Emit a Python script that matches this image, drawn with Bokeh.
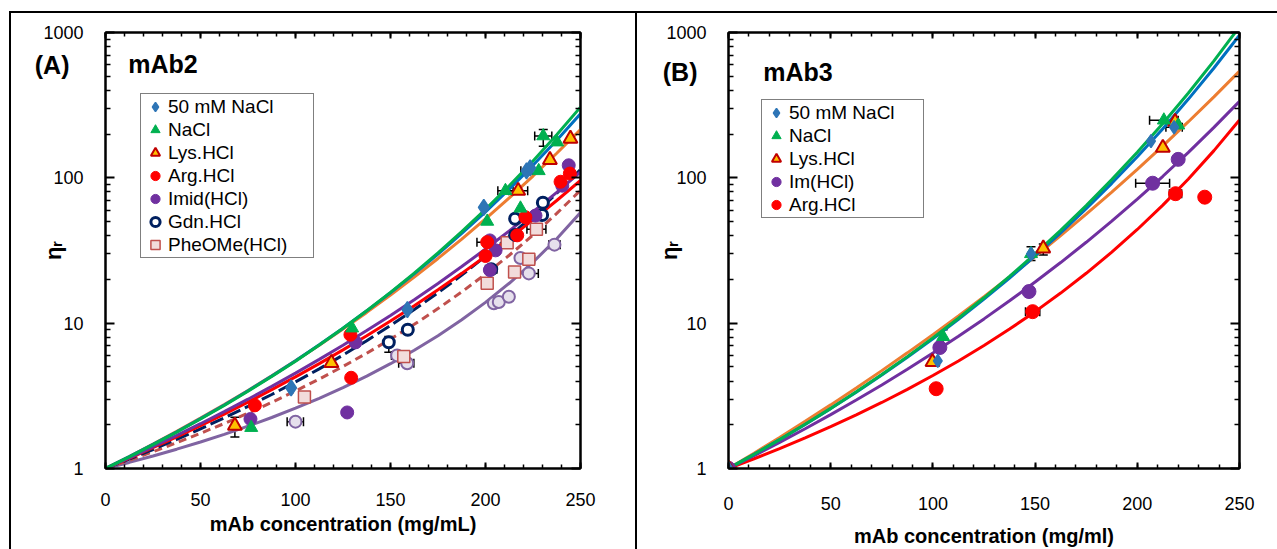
import numpy as np
from bokeh.plotting import figure
from bokeh.models import (FixedTicker, LinearAxis, LogAxis, CustomJSTickFormatter, BasicTickFormatter,
                          Legend, LegendItem, Label, Whisker, TeeHead, ColumnDataSource, Div)
from bokeh.layouts import row, column
from bokeh.embed import file_html
from bokeh.resources import INLINE

FONT = "Liberation Sans"

# ---------------- data: panel A (mAb2) ----------------
A_nacl50_c = [97.7, 158.9, 199.1, 221.6, 223.5]
A_nacl50_v = [3.59, 12.4, 62.7, 111.7, 117.0]
A_nacl_c = [76.7, 129.8, 200.9, 210.5, 218.4, 228.0, 230.4, 237.7]
A_nacl_v = [1.91, 9.24, 50.1, 81.5, 61.7, 111.7, 194.0, 176.0]
A_lys_c = [68.1, 118.9, 217.2, 233.9, 244.7]
A_lys_v = [1.97, 5.33, 81.5, 133.0, 186.0]
A_arg_c = [78.6, 128.9, 129.3, 200.0, 200.9, 216.7, 221.0, 239.5, 244.4]
A_arg_v = [2.72, 8.33, 4.21, 29.0, 36.1, 40.2, 53.6, 94.0, 107.0]
A_imid_c = [76.3, 127.2, 131.6, 202.3, 205.3, 202.3, 226.3, 240.4, 243.8]
A_imid_v = [2.19, 2.43, 7.38, 37.1, 31.7, 23.2, 55.0, 88.3, 122.0]
A_gdn_c = [149.1, 159.1, 203.0, 215.6, 215.6, 229.8, 230.2]
A_gdn_v = [7.39, 9.0, 23.5, 40.5, 52.3, 55.5, 67.5]
A_phe_c = [104.7, 157.0, 200.9, 211.4, 215.3, 222.8, 226.8]
A_phe_v = [3.1, 5.9, 18.8, 35.8, 22.5, 27.5, 44.2]
A_lav_c = [100.0, 153.5, 158.8, 204.4, 207.0, 212.3, 218.4, 222.8, 236.3]
A_lav_v = [2.1, 6.0, 5.3, 13.7, 14.0, 15.2, 28.1, 22.0, 34.7]

FIT_C = [0, 12.5, 25, 37.5, 50, 62.5, 75, 87.5, 100, 112.5, 125, 137.5, 150, 162.5,
         175, 187.5, 200, 212.5, 225, 237.5, 250]
A_fit_nacl50 = [1, 1.206, 1.464, 1.790, 2.204, 2.737, 3.426, 4.327, 5.516, 7.101, 9.241,
                12.16, 16.19, 21.84, 29.85, 41.41, 58.34, 83.59, 121.9, 181.3, 275.5]
A_fit_nacl = [1, 1.203, 1.458, 1.779, 2.189, 2.715, 3.398, 4.294, 5.479, 7.068, 9.221,
              12.18, 16.30, 22.11, 30.45, 42.63, 60.72, 88.14, 130.5, 197.7, 306.6]
A_fit_lys = [1, 1.210, 1.472, 1.803, 2.222, 2.757, 3.445, 4.338, 5.506, 7.047, 9.099,
             11.86, 15.60, 20.74, 27.88, 37.91, 52.18, 72.76, 102.9, 147.6, 215.0]
A_fit_arg = [1, 1.176, 1.390, 1.651, 1.973, 2.370, 2.865, 3.486, 4.270, 5.267, 6.546,
             8.198, 10.35, 13.19, 16.96, 22.02, 28.88, 38.31, 51.40, 69.83, 96.11]
A_fit_imid = [1, 1.185, 1.411, 1.689, 2.033, 2.461, 2.998, 3.675, 4.534, 5.634, 7.052,
              8.895, 11.31, 14.51, 18.77, 24.53, 32.37, 43.18, 58.24, 79.49, 109.9]
A_fit_gdn = [1, 1.159, 1.351, 1.586, 1.874, 2.229, 2.673, 3.231, 3.940, 4.850, 6.030,
             7.578, 9.635, 12.40, 16.19, 21.43, 28.83, 39.46, 55.03, 78.31, 114.0]
A_fit_phe = [1, 1.139, 1.305, 1.505, 1.746, 2.041, 2.402, 2.851, 3.414, 4.125, 5.036,
             6.214, 7.760, 9.818, 12.60, 16.41, 21.74, 29.33, 40.39, 56.89, 82.15]
A_fit_lav = [1, 1.101, 1.219, 1.358, 1.522, 1.719, 1.955, 2.244, 2.600, 3.043, 3.604,
             4.323, 5.262, 6.509, 8.201, 10.55, 13.90, 18.81, 26.28, 38.09, 57.64]

A_xerr_c = [99.9, 158.3, 210.5, 217.2, 200.0, 203.0, 226.8, 222.8, 236.3, 222.8, 221.6, 230.4, 153.5]
A_xerr_v = [2.1, 5.3, 81.5, 81.5, 36.1, 23.5, 44.2, 22.0, 34.7, 27.5, 111.7, 194.0, 6.0]
A_xerr_d = [4.3, 4.0, 4.0, 5.0, 4.5, 3.0, 5.0, 5.0, 3.0, 3.0, 3.0, 4.5, 3.0]
A_yerr_c = [68.1, 149.1, 230.4]
A_yerr_lo = [1.65, 6.3, 165.0]
A_yerr_hi = [2.25, 8.1, 215.0]

# ---------------- data: panel B (mAb3) ----------------
B_nacl50_c = [0, 102.4, 148.0, 206.7, 218.0]
B_nacl50_v = [1, 5.5, 30.0, 179.0, 223.0]
B_nacl_c = [0, 105.0, 148.0, 213.0, 220.0]
B_nacl_v = [1, 8.06, 30.0, 249.0, 230.0]
B_lys_c = [0, 99.8, 154.0, 212.5, 218.5]
B_lys_v = [1, 5.4, 32.7, 161.0, 243.0]
B_im_c = [0, 103.4, 147.0, 207.5, 220.0]
B_im_v = [1, 6.8, 16.5, 91.8, 134.0]
B_arg_c = [0, 101.6, 148.8, 218.7, 233.0]
B_arg_v = [1, 3.54, 12.0, 77.8, 73.6]

B_fit_nacl50 = [1, 1.251, 1.579, 2.010, 2.583, 3.352, 4.396, 5.828, 7.820, 10.63, 14.63,
                20.44, 28.99, 41.79, 61.33, 91.67, 139.8, 218.0, 348.1, 569.8, 959.7]
B_fit_nacl = [1, 1.252, 1.581, 2.014, 2.592, 3.369, 4.428, 5.887, 7.925, 10.81, 14.95,
              21.00, 29.97, 43.53, 64.40, 97.21, 149.9, 236.8, 383.5, 638.3, 1094.8]
B_fit_lys = [1, 1.275, 1.635, 2.110, 2.740, 3.581, 4.714, 6.248, 8.343, 11.23, 15.23,
             20.84, 28.75, 40.03, 56.26, 79.86, 114.5, 166.0, 243.3, 360.9, 542.0]
B_fit_im = [1, 1.225, 1.511, 1.877, 2.347, 2.959, 3.759, 4.816, 6.225, 8.122, 10.70,
            14.25, 19.18, 26.12, 36.02, 50.32, 71.30, 102.5, 149.7, 222.4, 336.3]
B_fit_arg = [1, 1.167, 1.371, 1.624, 1.940, 2.339, 2.847, 3.504, 4.361, 5.497, 7.023,
             9.107, 12.00, 16.11, 22.04, 30.81, 44.12, 64.88, 98.29, 153.9, 250.2]

B_xerr_c = [207.5, 213.0, 218.0, 218.7, 148.8]
B_xerr_v = [91.8, 249.0, 223.0, 77.8, 12.0]
B_xerr_d = [8.3, 7.0, 4.0, 3.0, 3.5]
B_yerr_c = [148.0, 154.0, 105.0]
B_yerr_lo = [27.0, 29.5, 7.2]
B_yerr_hi = [33.5, 35.0, 9.0]

X_MAJOR = [0, 50, 100, 150, 200, 250]
X_MINOR = list(range(0, 251, 10))
Y_MAJOR = [1, 10, 100, 1000]
Y_MINOR = [m * d for d in (1, 10, 100) for m in range(2, 10)]

C_BLUE, C_BLUE_M = "#0070C0", "#2E75B6"
C_GREEN = "#00B050"
C_ORANGE = "#ED7D31"
C_RED = "#FF0000"
C_PURPLE = "#7030A0"
C_NAVY = "#002060"
C_ROSE = "#C0504D"
C_LAV = "#8064A2"


def style_axis(ax, major_in, minor_in, labels=True):
    ax.axis_line_color = "black"
    ax.axis_line_width = 2
    ax.major_tick_line_color = "black"
    ax.major_tick_line_width = 2
    ax.minor_tick_line_color = "black"
    ax.minor_tick_line_width = 1.5
    ax.major_tick_in = major_in
    ax.major_tick_out = 0
    ax.minor_tick_in = minor_in
    ax.minor_tick_out = 0
    ax.major_label_text_font = FONT
    ax.major_label_text_font_size = "18px"
    ax.major_label_text_color = "black"
    if not labels:
        ax.formatter = CustomJSTickFormatter(code="return ''")
        ax.major_label_standoff = 0


def make_panel(width, mb_left, mb_right, mb_top, mb_bottom, xlabel, x_standoff, xl_standoff, yl_standoff):
    p = figure(width=width, height=536, x_range=(0, 250), y_range=(1, 1000),
               y_axis_type="log", output_backend="svg", toolbar_location=None,
               min_border_left=mb_left, min_border_right=mb_right,
               min_border_top=mb_top, min_border_bottom=mb_bottom)
    p.xgrid.visible = False
    p.ygrid.visible = False
    p.outline_line_color = "black"
    p.outline_line_width = 2
    p.background_fill_color = "white"
    p.border_fill_color = "white"
    xt = FixedTicker(ticks=X_MAJOR, minor_ticks=X_MINOR)
    yt = FixedTicker(ticks=Y_MAJOR, minor_ticks=Y_MINOR)
    p.xaxis.ticker = xt
    p.yaxis.ticker = yt
    p.yaxis.formatter = BasicTickFormatter()
    p.yaxis.major_label_overrides = {1: "1", 10: "10", 100: "100", 1000: "1000"}
    style_axis(p.xaxis[0], 6, 4)
    style_axis(p.yaxis[0], 9, 5)
    p.xaxis.major_label_standoff = x_standoff
    p.yaxis.major_label_standoff = 22
    p.xaxis.axis_label = xlabel
    p.xaxis.axis_label_text_font = FONT
    p.xaxis.axis_label_text_font_style = "bold"
    p.xaxis.axis_label_text_font_size = "20px"
    p.xaxis.axis_label_text_color = "black"
    p.xaxis.axis_label_standoff = xl_standoff
    p.yaxis.axis_label = "\u03b7\u1d63"
    p.yaxis.axis_label_text_font = FONT
    p.yaxis.axis_label_text_font_style = "bold"
    p.yaxis.axis_label_text_font_size = "22px"
    p.yaxis.axis_label_text_color = "black"
    p.yaxis.axis_label_standoff = yl_standoff
    top = LinearAxis(ticker=xt)
    style_axis(top, 6, 4, labels=False)
    p.add_layout(top, "above")
    right = LogAxis(ticker=yt)
    style_axis(right, 9, 5, labels=False)
    p.add_layout(right, "right")
    return p


def add_tag(p, text, y_pos, standoff):
    # panel tag such as "(A)" drawn as the single label of an extra, line-less left axis
    ax = LogAxis(ticker=FixedTicker(ticks=[y_pos], minor_ticks=[]),
                 formatter=CustomJSTickFormatter(code="return '%s'" % text))
    ax.axis_line_color = None
    ax.major_tick_line_color = None
    ax.minor_tick_line_color = None
    ax.major_tick_in = 0
    ax.major_tick_out = 0
    ax.minor_tick_in = 0
    ax.minor_tick_out = 0
    ax.major_label_standoff = standoff
    ax.major_label_text_font = FONT
    ax.major_label_text_font_style = "bold"
    ax.major_label_text_font_size = "25px"
    ax.major_label_text_color = "black"
    p.add_layout(ax, "left")


def add_whiskers(p, xc, xv, xd, yc, ylo, yhi):
    xs = ColumnDataSource(dict(base=xv, lower=[c - d for c, d in zip(xc, xd)],
                               upper=[c + d for c, d in zip(xc, xd)]))
    p.add_layout(Whisker(source=xs, base="base", lower="lower", upper="upper", dimension="width",
                         line_color="black", line_width=1.5,
                         upper_head=TeeHead(size=9, line_width=1.5, line_color="black"),
                         lower_head=TeeHead(size=9, line_width=1.5, line_color="black")))
    ys = ColumnDataSource(dict(base=yc, lower=ylo, upper=yhi))
    p.add_layout(Whisker(source=ys, base="base", lower="lower", upper="upper", dimension="height",
                         line_color="black", line_width=1.5,
                         upper_head=TeeHead(size=9, line_width=1.5, line_color="black"),
                         lower_head=TeeHead(size=9, line_width=1.5, line_color="black")))


def make_legend(items, loc, label_width):
    return Legend(items=items, location=loc, border_line_color="black", border_line_width=1.5,
                  background_fill_color="white", background_fill_alpha=1.0,
                  label_text_font=FONT, label_text_font_size="19px", label_text_color="black",
                  glyph_height=23, glyph_width=26, label_standoff=0, padding=1, spacing=0,
                  margin=0, label_width=label_width, label_height=20)


LW = 3

# ---------------- Panel A ----------------
pA = make_panel(624, 94, 55, 16, 81, "mAb concentration (mg/mL)", 24, 4, -26)
add_tag(pA, "(A)", 595, -31)
pA.line(FIT_C, A_fit_lav, line_color=C_LAV, line_width=LW)
pA.line(FIT_C, A_fit_phe, line_color=C_ROSE, line_width=LW, line_dash="8 5")
pA.line(FIT_C, A_fit_gdn, line_color=C_NAVY, line_width=LW, line_dash="14 5")
pA.line(FIT_C, A_fit_arg, line_color=C_RED, line_width=LW)
pA.line(FIT_C, A_fit_imid, line_color=C_PURPLE, line_width=LW)
pA.line(FIT_C, A_fit_lys, line_color=C_ORANGE, line_width=LW)
pA.line(FIT_C, A_fit_nacl50, line_color=C_BLUE, line_width=LW)
pA.line(FIT_C, A_fit_nacl, line_color=C_GREEN, line_width=LW)
add_whiskers(pA, A_xerr_c, A_xerr_v, A_xerr_d, A_yerr_c, A_yerr_lo, A_yerr_hi)

pA.scatter(A_lav_c, A_lav_v, marker="circle", size=12, fill_color="#E6E0EC", line_color=C_LAV, line_width=2)
rA_phe = pA.scatter(A_phe_c, A_phe_v, marker="square", size=12, fill_color="#F2DCDB", line_color=C_ROSE, line_width=1.5)
rA_gdn = pA.scatter(A_gdn_c, A_gdn_v, marker="circle", size=11, fill_color="white", line_color=C_NAVY, line_width=3)
rA_imid = pA.scatter(A_imid_c, A_imid_v, marker="circle", size=13, fill_color=C_PURPLE, line_color=C_PURPLE)
rA_arg = pA.scatter(A_arg_c, A_arg_v, marker="circle", size=13, fill_color=C_RED, line_color=C_RED)
rA_lys = pA.scatter(A_lys_c, A_lys_v, marker="triangle", size=14, fill_color="#FFC000", line_color="#C00000", line_width=2)
rA_nacl = pA.scatter(A_nacl_c, A_nacl_v, marker="triangle", size=13, fill_color=C_GREEN, line_color=C_GREEN)
rA_n50 = pA.scatter(A_nacl50_c, A_nacl50_v, marker="diamond", size=16,
                    fill_color=C_BLUE_M, line_color=C_BLUE_M, line_width=1.5)

pA.add_layout(make_legend([
    LegendItem(label="50 mM NaCl", renderers=[rA_n50]),
    LegendItem(label="NaCl", renderers=[rA_nacl]),
    LegendItem(label="Lys.HCl", renderers=[rA_lys]),
    LegendItem(label="Arg.HCl", renderers=[rA_arg]),
    LegendItem(label="Imid(HCl)", renderers=[rA_imid]),
    LegendItem(label="Gdn.HCl", renderers=[rA_gdn]),
    LegendItem(label="PheOMe(HCl)", renderers=[rA_phe]),
], (35, 210), 144))
pA.add_layout(Label(x=12.0, y=604, text="mAb2", text_font=FONT, text_font_style="bold",
                    text_font_size="25px", text_align="left", text_baseline="middle", text_color="black"))

# ---------------- Panel B ----------------
pB = make_panel(640, 91, 38, 19, 78, "mAb concentration (mg/ml)", 28, 12, -19)
add_tag(pB, "(B)", 533, -43)
pB.line(FIT_C, B_fit_arg, line_color=C_RED, line_width=LW)
pB.line(FIT_C, B_fit_im, line_color=C_PURPLE, line_width=LW)
pB.line(FIT_C, B_fit_lys, line_color=C_ORANGE, line_width=LW)
pB.line(FIT_C, B_fit_nacl50, line_color=C_BLUE, line_width=LW)
pB.line(FIT_C, B_fit_nacl, line_color=C_GREEN, line_width=LW)
add_whiskers(pB, B_xerr_c, B_xerr_v, B_xerr_d, B_yerr_c, B_yerr_lo, B_yerr_hi)

rB_arg = pB.scatter(B_arg_c, B_arg_v, marker="circle", size=14, fill_color=C_RED, line_color=C_RED)
rB_im = pB.scatter(B_im_c, B_im_v, marker="circle", size=14, fill_color=C_PURPLE, line_color=C_PURPLE)
rB_lys = pB.scatter(B_lys_c, B_lys_v, marker="triangle", size=14, fill_color="#FFC000", line_color="#C00000", line_width=2)
rB_nacl = pB.scatter(B_nacl_c, B_nacl_v, marker="triangle", size=13, fill_color=C_GREEN, line_color=C_GREEN)
rB_n50 = pB.scatter(B_nacl50_c, B_nacl50_v, marker="diamond", size=13,
                    fill_color=C_BLUE_M, line_color=C_BLUE_M, line_width=1.5)

pB.add_layout(make_legend([
    LegendItem(label="50 mM NaCl", renderers=[rB_n50]),
    LegendItem(label="NaCl", renderers=[rB_nacl]),
    LegendItem(label="Lys.HCl", renderers=[rB_lys]),
    LegendItem(label="Im(HCl)", renderers=[rB_im]),
    LegendItem(label="Arg.HCl", renderers=[rB_arg]),
], (33, 250), 133))
pB.add_layout(Label(x=17.0, y=533, text="mAb3", text_font=FONT, text_font_style="bold",
                    text_font_size="25px", text_align="left", text_baseline="middle", text_color="black"))

# ---------------- frame lines & layout ----------------
def blank(w, h):
    return Div(text="", width=w, height=h, margin=0)

def black(w, h):
    return Div(text="", width=w, height=h, margin=0, styles={"background-color": "black"})

layout = column(
    blank(1277, 11),
    row(blank(9, 2), black(1268, 2), spacing=0),
    row(blank(9, 536), black(2, 536), pA, black(2, 536), pB, spacing=0),
    spacing=0,
)

with open("out.html", "w") as f:
    f.write(file_html(layout, INLINE))
